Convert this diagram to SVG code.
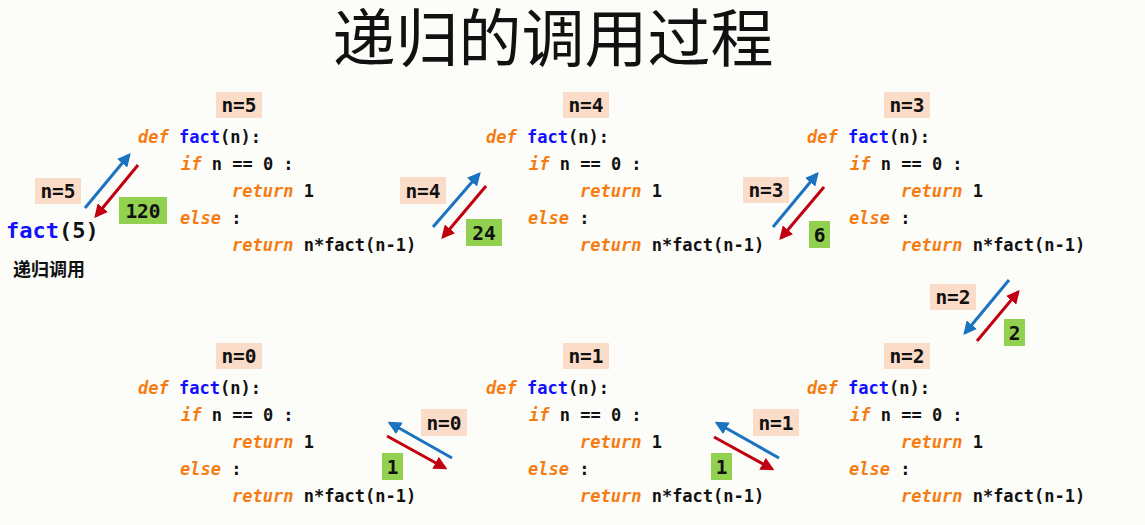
<svg xmlns="http://www.w3.org/2000/svg" width="1145" height="525" viewBox="0 0 1145 525">
<style>
.code{font-family:"DejaVu Sans Mono","Liberation Mono",monospace;font-weight:bold;font-size:17px;fill:#111}
.kw{fill:#f57c13;font-style:italic}
.fn{fill:#1010ff}
.lbl{font-family:"DejaVu Sans Mono","Liberation Mono",monospace;font-weight:bold;font-size:19.5px;fill:#111;text-anchor:middle}
.pbox{fill:#fbdcc8}
.gbox{fill:#92d050}
.blue{stroke:#1a73c0;stroke-width:3;fill:none;marker-end:url(#hb)}
.red{stroke:#c00010;stroke-width:3;fill:none;marker-end:url(#hr)}
</style>
<defs>
<marker id="hb" viewBox="0 0 10 10" refX="8" refY="5" markerWidth="4.5" markerHeight="4.5" orient="auto"><path d="M0,0 L10,5 L0,10 z" fill="#1a73c0"/></marker>
<marker id="hr" viewBox="0 0 10 10" refX="8" refY="5" markerWidth="4.5" markerHeight="4.5" orient="auto"><path d="M0,0 L10,5 L0,10 z" fill="#c00010"/></marker>
<g id="codeblock">
<text class="code" x="0" y="0"><tspan class="kw">def</tspan> <tspan class="fn">fact</tspan>(n):</text>
<text class="code" x="43" y="27"><tspan class="kw">if</tspan> n == 0 :</text>
<text class="code" x="94" y="54"><tspan class="kw">return</tspan> 1</text>
<text class="code" x="42" y="81"><tspan class="kw">else</tspan> :</text>
<text class="code" x="94" y="108"><tspan class="kw">return</tspan> n*fact(n-1)</text>
</g>
</defs>
<rect width="1145" height="525" fill="#fcfcf8"/>
<text x="553" y="61" font-family="'Noto Sans CJK SC',sans-serif" font-size="63" text-anchor="middle" fill="#111">递归的调用过程</text>

<g id="start">
<text x="6" y="238" font-family="'DejaVu Sans Mono','Liberation Mono',monospace" font-weight="bold" font-size="22" fill="#111"><tspan fill="#1010ff">fact</tspan>(5)</text>
<text x="13" y="276" font-family="'Noto Sans CJK SC',sans-serif" font-weight="bold" font-size="18" fill="#111">递归调用</text>
</g>

<g id="block5">
<rect class="pbox" x="216" y="92" width="46" height="26"/><text class="lbl" x="239" y="112">n=5</text>
<use href="#codeblock" x="138" y="143"/>
</g>
<g id="block4">
<rect class="pbox" x="563" y="92" width="46" height="26"/><text class="lbl" x="586" y="112">n=4</text>
<use href="#codeblock" x="486" y="143"/>
</g>
<g id="block3">
<rect class="pbox" x="884" y="92" width="46" height="26"/><text class="lbl" x="907" y="112">n=3</text>
<use href="#codeblock" x="807" y="143"/>
</g>
<g id="block0">
<rect class="pbox" x="216" y="343" width="46" height="26"/><text class="lbl" x="239" y="363">n=0</text>
<use href="#codeblock" x="138" y="394"/>
</g>
<g id="block1">
<rect class="pbox" x="563" y="343" width="46" height="26"/><text class="lbl" x="586" y="363">n=1</text>
<use href="#codeblock" x="486" y="394"/>
</g>
<g id="block2">
<rect class="pbox" x="884" y="343" width="46" height="26"/><text class="lbl" x="907" y="363">n=2</text>
<use href="#codeblock" x="807" y="394"/>
</g>

<g id="connectors">
<line class="blue" x1="85" y1="208" x2="129" y2="155"/>
<line class="red" x1="138" y1="165" x2="96" y2="216"/>
<rect class="pbox" x="35" y="178" width="46" height="26"/><text class="lbl" x="58" y="198">n=5</text>
<rect class="gbox" x="119" y="197" width="48" height="27"/><text class="lbl" x="143" y="218">120</text>

<line class="blue" x1="433" y1="227" x2="479" y2="174"/>
<line class="red" x1="486" y1="186" x2="443" y2="237"/>
<rect class="pbox" x="400" y="177" width="46" height="27"/><text class="lbl" x="423" y="198">n=4</text>
<rect class="gbox" x="466" y="219" width="36" height="27"/><text class="lbl" x="484" y="240">24</text>

<line class="blue" x1="773" y1="227" x2="817" y2="174"/>
<line class="red" x1="824" y1="187" x2="781" y2="238"/>
<rect class="pbox" x="743" y="177" width="46" height="26"/><text class="lbl" x="766" y="197">n=3</text>
<rect class="gbox" x="809" y="221" width="21" height="27"/><text class="lbl" x="819.5" y="242">6</text>

<line class="blue" x1="1009" y1="280" x2="965" y2="333"/>
<line class="red" x1="977" y1="341" x2="1018" y2="292"/>
<rect class="pbox" x="930" y="284" width="46" height="26"/><text class="lbl" x="953" y="304">n=2</text>
<rect class="gbox" x="1004" y="319" width="21" height="27"/><text class="lbl" x="1014.5" y="340">2</text>

<line class="blue" x1="779" y1="458" x2="717" y2="423"/>
<line class="red" x1="714" y1="437" x2="772" y2="469"/>
<rect class="pbox" x="753" y="409" width="46" height="27"/><text class="lbl" x="776" y="430">n=1</text>
<rect class="gbox" x="711" y="453" width="21" height="27"/><text class="lbl" x="721.5" y="474">1</text>

<line class="blue" x1="452" y1="458" x2="390" y2="423"/>
<line class="red" x1="387" y1="436" x2="445" y2="468"/>
<rect class="pbox" x="421" y="409" width="46" height="27"/><text class="lbl" x="444" y="430">n=0</text>
<rect class="gbox" x="382" y="453" width="21" height="27"/><text class="lbl" x="392.5" y="474">1</text>
</g>
</svg>
